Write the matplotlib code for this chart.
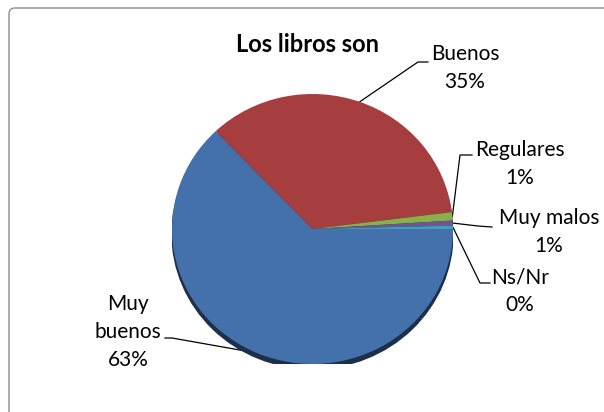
import numpy as np
import matplotlib
matplotlib.use('Agg')
import matplotlib.pyplot as plt
from matplotlib.patches import Ellipse, FancyBboxPatch

plt.rcParams['font.family'] = ['Lato', 'DejaVu Sans']

title = 'Los libros son'
categories = ['Muy\nbuenos', 'Buenos', 'Regulares', 'Muy malos', 'Ns/Nr']
values = [62.9, 35.1, 1.0, 0.6, 0.4]
colors = ['#4470AB', '#A63D3E', '#8AB04B', '#6F5592', '#3DA0BC']

W, H = 604, 412
fig = plt.figure(figsize=(W / 100, H / 100), dpi=100)

# overlay axes in pixel coords (y from top)
over = fig.add_axes([0, 0, 1, 1])
over.set_xlim(0, W)
over.set_ylim(H, 0)
over.axis('off')

over.add_patch(FancyBboxPatch((9, 8), 700, 500, boxstyle='round,pad=0,rounding_size=6',
                              fc='white', ec='#8C8C8C', lw=1, zorder=0))

# pie axes, slightly squashed like the original 3D look
cx, cy, rx, ry = 312.5, 229, 140.5, 135
pax = fig.add_axes([(cx - rx) / W, (H - cy - ry) / H, 2 * rx / W, 2 * ry / H])
pax.add_patch(Ellipse((0, -0.035), 2.0, 2.0, color='#1E2F4A', zorder=0))
wedges, _ = pax.pie(values, colors=colors, startangle=0, counterclock=False,
                    radius=1, wedgeprops=dict(linewidth=0))
for w in wedges:
    w.set_zorder(1)
pax.set_aspect('auto')
pax.set_xlim(-1, 1)
pax.set_ylim(-1, 1)
pax.axis('off')

over.text(308, 44, title, ha='center', va='center', fontsize=17, fontweight='bold')

# text anchor (center), elbow point, end point of leader line
layout = [
    ((128, 332), (172, 338), (165, 338)),
    ((465, 68), (418, 62), (428, 62)),
    ((520, 164), (460, 155), (472, 155)),
    ((549, 232), (478, 226), (492, 227)),
    ((520, 291), (480, 283), (490, 283)),
]
for w, cat, v, (tpos, elbow, end) in zip(wedges, categories, values, layout):
    ang = np.deg2rad((w.theta1 + w.theta2) / 2)
    sx = cx + rx * np.cos(ang)
    sy = cy - ry * np.sin(ang)
    over.plot([sx, elbow[0], end[0]], [sy, elbow[1], end[1]], color='black', lw=0.9)
    over.text(tpos[0], tpos[1], f'{cat}\n{v:.0f}%', ha='center', va='center',
              fontsize=15, linespacing=1.5)

fig.savefig('out.png', dpi=100)
